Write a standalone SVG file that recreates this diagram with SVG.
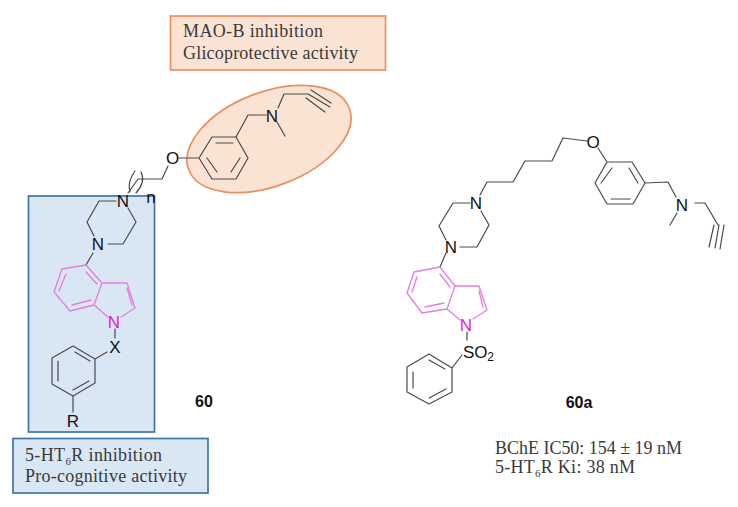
<svg xmlns="http://www.w3.org/2000/svg" width="738" height="507" viewBox="0 0 738 507">
<style>
.b{fill:none;stroke:#4a4a4a;stroke-width:1.2;stroke-linecap:round;stroke-linejoin:round}
.m{fill:none;stroke:#e77be0;stroke-width:1.3;stroke-linecap:round;stroke-linejoin:round}
.a{font-family:"Liberation Sans",Arial,sans-serif;font-size:17px;fill:#111;text-anchor:middle}
.am{font-family:"Liberation Sans",Arial,sans-serif;font-size:17px;fill:#e020d8;text-anchor:middle}
.t{font-family:"Liberation Serif","Times New Roman",serif;font-size:18px;fill:#3a3a3a}
.l{font-family:"Liberation Sans",Arial,sans-serif;font-size:16px;font-weight:bold;fill:#111;text-anchor:middle}
.or{fill:#fbe3d3;stroke:#e98f62;stroke-width:1.7}
.bl{fill:#d9e7f5;stroke:#3f76a8;stroke-width:1.7}
</style>
<g id="mao-box"><rect class="or" x="170.500" y="16" width="215" height="54"/>
<text class="t" x="183" y="37" textLength="140">MAO-B  inhibition</text>
<text class="t" x="183" y="59" textLength="175">Glicoprotective activity</text></g>
<g id="mao-ellipse"><ellipse class="or" cx="269" cy="139" rx="86" ry="47" transform="rotate(-21 269 139)"/></g>
<g id="ht6-frame"><rect class="bl" x="28.500" y="196" width="126" height="236"/></g>
<g id="ht6-box"><rect class="bl" x="13" y="438.500" width="195" height="54.500"/>
<text class="t" x="25" y="461" textLength="137">5-HT<tspan font-size="11" dy="4">6</tspan><tspan dy="-4">R inhibition</tspan></text>
<text class="t" x="25" y="482" textLength="162">Pro-cognitive activity</text></g>

<g id="compound-60">
<path class="b" d="M179 158H199L212 137H236L248 158L236 179H212L199 158M216 143H233M240 158L231 172M217 172L207 158"/>
<path class="b" d="M236 137L248 115H266M277 122L285 136M278 108L284 94H308L330 107M306 98L325 112M311 90L331 103"/>
<path class="b" d="M168 166L162 179H138L128 193"/>
<path class="b" d="M135 171Q127 182 130 192M141 172Q146 182 136 193"/>
<path class="b" d="M116 201H99L87 222L94 236M108 244H123L136 222L128 208"/>
<path class="b" d="M93 253L86 265"/>
<path class="m" d="M86 265L62 269L54 292L70 311L94 305L102 283L86 265M66 274L59 291M72 305L91 300M103 283H127L135 308L121 317M127 288L132 305M94 305L108 317M86 272L97 284"/>
<path class="b" d="M115 329V338M107 352L95 359V383L73 396L52 384V358L73 346L95 359M75 352L90 361M73 390L89 381M58 361V381"/>
<path class="b" d="M73 396V412"/>
<text class="a" x="123" y="207">N</text>
<text class="a" x="98" y="250">N</text>
<text class="a" x="172.500" y="164">O</text>
<text class="a" x="272" y="122">N</text>
<text class="am" x="114" y="328">N</text>
<text class="a" x="115" y="353">X</text>
<text class="a" x="73" y="427">R</text>
<text class="a" x="151" y="203">n</text>
<text class="l" x="204" y="407">60</text>
</g>

<g id="compound-60a">
<path class="b" d="M587 141L563 138L552 161H525L513 182H487L480 195"/>
<path class="b" d="M598 148L607 162H632L645 183L633 204H607L595 183L607 162M612 168L601 183M629 168L638 183M611 199H630"/>
<path class="b" d="M645 183L668 182L676 197M695 203H705L718 225M677 213L670 225M714 225L709 247M719 225L715 248M724 225L720 249"/>
<path class="b" d="M470 203H453L439 226L446 240M460 247H477L489 225L481 211"/>
<path class="b" d="M446 253L440 267"/>
<path class="m" d="M440 267L414 272L407 293L422 313L447 309L455 286L440 267M417 277L412 292M425 307L444 303M455 286H479L487 310L473 319M479 291L483 307M447 309L460 320M440 274L450 287"/>
<path class="b" d="M467 332V340M462 355L452 368V392L429 404L407 392V367L429 354L452 368M429 398L446 389M413 372V388M429 360L445 369"/>
<text class="a" x="476" y="209">N</text>
<text class="a" x="451" y="253">N</text>
<text class="a" x="593" y="148">O</text>
<text class="a" x="682" y="211">N</text>
<text class="am" x="466" y="331">N</text>
<text class="a" x="478.500" y="358" textLength="31">SO<tspan font-size="12" dy="3">2</tspan></text>
<text class="l" x="579" y="408">60a</text>
<text class="t" x="495" y="454" textLength="187">BChE IC50: 154 ± 19 nM</text>
<text class="t" x="495" y="473" textLength="140">5-HT<tspan font-size="11" dy="4">6</tspan><tspan dy="-4">R Ki: 38 nM</tspan></text>
</g>
</svg>
